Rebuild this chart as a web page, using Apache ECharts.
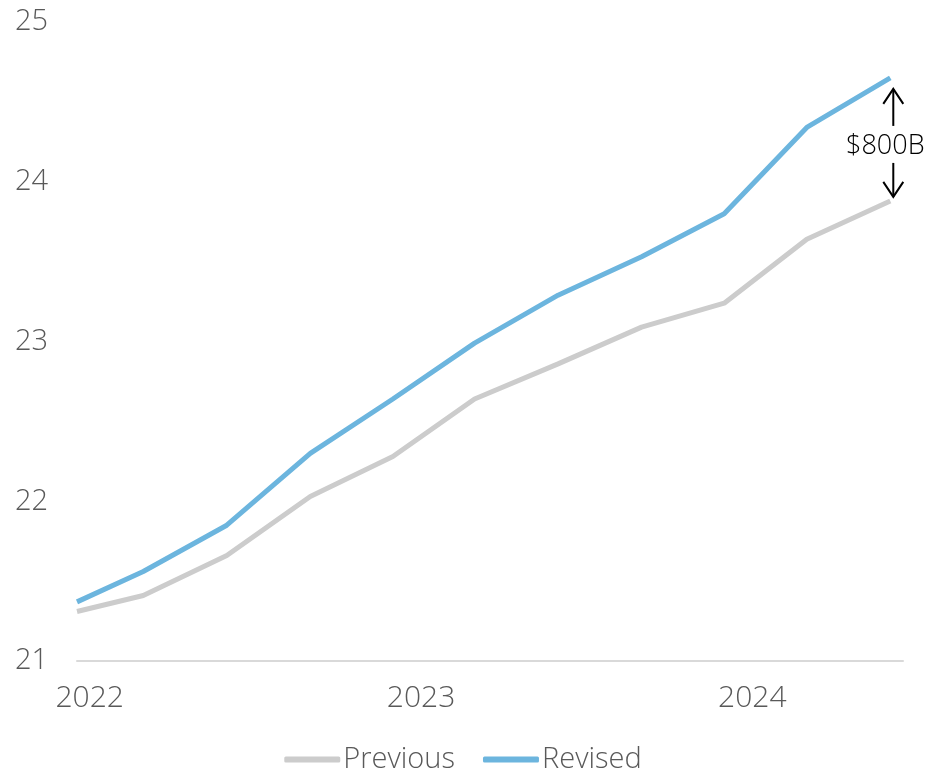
<!DOCTYPE html>
<html>
<head>
<meta charset="utf-8">
<script src="https://cdn.jsdelivr.net/npm/echarts@6/dist/echarts.min.js"></script>
<style>
html,body{margin:0;padding:0;background:#fff;}
#chart{width:926px;height:773px;}
</style>
</head>
<body>
<div id="chart"></div>
<script>
// Data (quarterly observations)
const dates = ['2021-12-18','2022-03-01','2022-06-01','2022-09-01','2022-12-01','2023-03-01','2023-06-01','2023-09-01','2023-12-01','2024-03-01','2024-06-01'];
const previous = [21.31, 21.41, 21.66, 22.03, 22.28, 22.64, 22.86, 23.09, 23.24, 23.64, 23.88];
const revised  = [21.37, 21.56, 21.85, 22.30, 22.64, 22.99, 23.29, 23.53, 23.80, 24.34, 24.65];
const yearTicks = ['2022-01-01','2023-01-01','2024-01-01'];
const seriesNames = ['Previous','Revised'];
const annotationText = '$800B';

const FONT = '"Open Sans", "Noto Sans", sans-serif';
const TXT = '#595959';
const ts = d => new Date(d + 'T00:00:00Z').getTime();

const chart = echarts.init(document.getElementById('chart'), null, {renderer:'canvas'});
const option = {
  animation: false,
  backgroundColor: '#fff',
  grid: {left: 77, right: 23, top: 22, bottom: 112, containLabel: false},
  xAxis: {
    type: 'value',
    min: ts('2021-12-18'),
    max: ts('2024-06-15'),
    axisLine: {show: true, lineStyle: {color: '#d9d9d9', width: 2}},
    axisTick: {show: false},
    splitLine: {show: false},
    axisLabel: {
      customValues: yearTicks.map(ts),
      formatter: v => String(new Date(v).getUTCFullYear()),
      color: TXT, fontFamily: FONT, fontWeight: 300, fontSize: 30, margin: 22,
      showMinLabel: true, showMaxLabel: true
    }
  },
  yAxis: {
    type: 'value',
    min: 21, max: 25, interval: 1,
    axisLine: {show: false},
    axisTick: {show: false},
    splitLine: {show: false},
    axisLabel: {color: TXT, fontFamily: FONT, fontWeight: 300, fontSize: 29, margin: 29}
  },
  legend: {
    bottom: -6,
    left: 'center',
    icon: 'roundRect',
    itemWidth: 56,
    itemHeight: 6,
    itemGap: 28,
    textStyle: {color: TXT, fontFamily: FONT, fontWeight: 300, fontSize: 29, padding: [0,0,0,-2]},
    data: seriesNames
  },
  series: [
    {
      name: seriesNames[0], type: 'line', showSymbol: false, symbol: 'none',
      data: dates.map((d,i) => [ts(d), previous[i]]),
      lineStyle: {color: '#cccccc', width: 5}, itemStyle: {color: '#cccccc'},
      z: 2
    },
    {
      name: seriesNames[1], type: 'line', showSymbol: false, symbol: 'none',
      data: dates.map((d,i) => [ts(d), revised[i]]),
      lineStyle: {color: '#6cb5de', width: 5}, itemStyle: {color: '#6cb5de'},
      z: 3
    }
  ]
};
chart.setOption(option);

// Annotation derived from last data points
const last = dates.length - 1;
const pTop = chart.convertToPixel({gridIndex: 0}, [ts(dates[last]), revised[last]]);
const pBot = chart.convertToPixel({gridIndex: 0}, [ts(dates[last]), previous[last]]);
const ax = pTop[0] + 3;
const upTip = pTop[1] + 11;
const downTip = pBot[1] - 4;
const mid = (upTip + downTip) / 2 + 3;
const head = 10, headH = 15;
chart.setOption({
  graphic: [
    {type:'polyline', shape:{points:[[ax, upTip],[ax, upTip+37]]}, style:{stroke:'#000', lineWidth:2, fill:null}, z:10},
    {type:'polyline', shape:{points:[[ax-head, upTip+headH],[ax, upTip],[ax+head, upTip+headH]]}, style:{stroke:'#000', lineWidth:2, fill:null}, z:10},
    {type:'text', x: ax - 8, y: mid, style:{text: annotationText, fill:'#000', font: '300 27px ' + FONT, align:'center', verticalAlign:'middle'}, z:10},
    {type:'polyline', shape:{points:[[ax, downTip],[ax, downTip-34]]}, style:{stroke:'#000', lineWidth:2, fill:null}, z:10},
    {type:'polyline', shape:{points:[[ax-head, downTip-headH],[ax, downTip],[ax+head, downTip-headH]]}, style:{stroke:'#000', lineWidth:2, fill:null}, z:10}
  ]
});
</script>
</body>
</html>
